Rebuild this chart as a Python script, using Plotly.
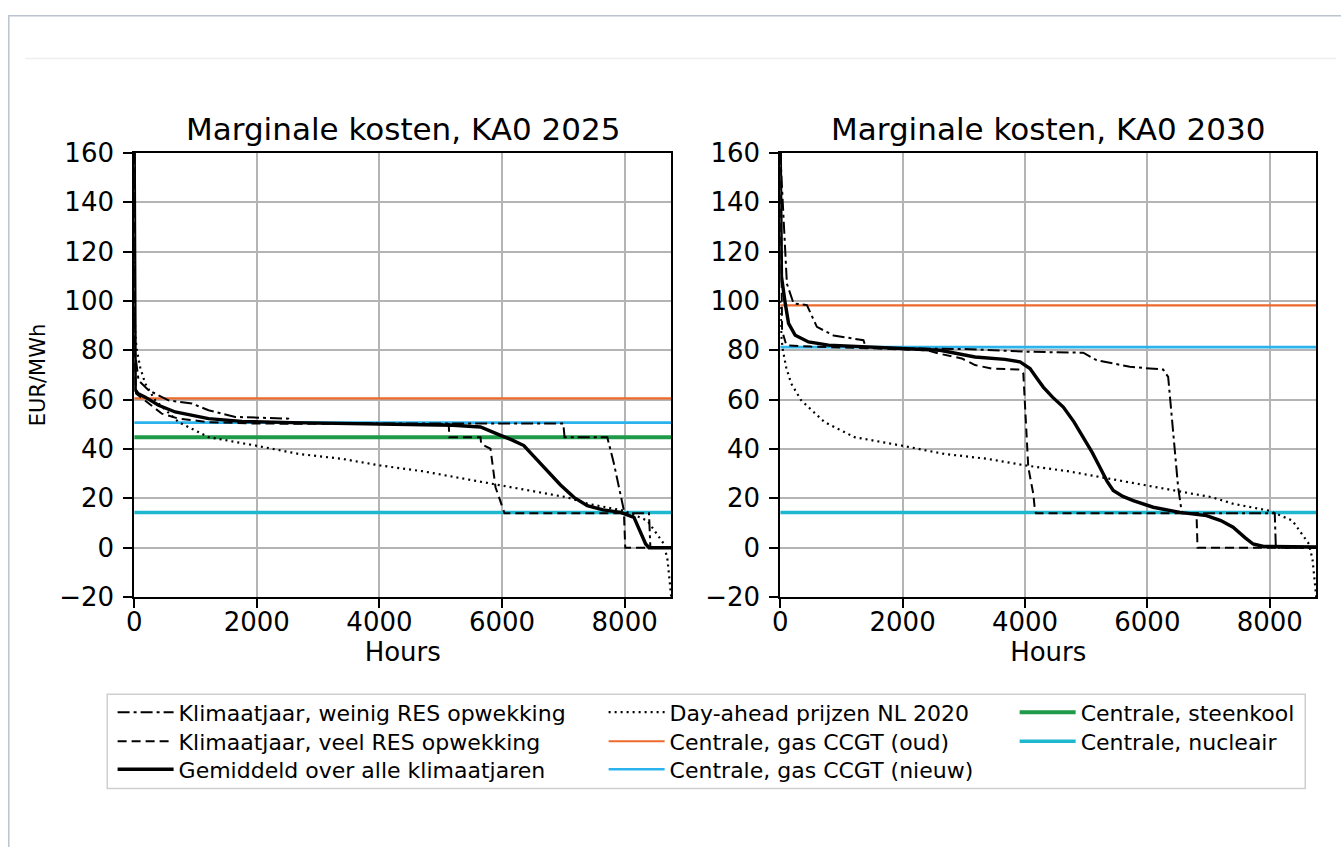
import plotly.graph_objects as go

W, H = 1341, 847

# ---------------- data ----------------
# Day-ahead prices NL 2020 (sorted duration curve, same in both panels)
HOURS_DA = [0, 20, 44, 98, 180, 343, 724, 1213, 1976, 2683, 3391, 4016, 4700, 5224,
            5812, 6313, 7064, 7401, 7989, 8370, 8641, 8700, 8740, 8760]
PRICE_DA = [100, 85, 80, 73, 66.5, 59.7, 50.9, 44.8, 41.4, 38, 36, 33.3, 31, 28.6,
            25.9, 23.8, 20.4, 17.8, 15, 11, 1.5, -5, -15, -20]

# KA0 2025
H25_MEAN = [0, 5, 16, 60, 180, 397, 669, 1213, 1758, 2574, 3500, 4500, 5200, 5649, 5800,
            5976, 6150, 6356, 6500, 6738, 6950, 7173, 7391, 7650, 7935, 8152, 8250, 8343,
            8400, 8760]
P25_MEAN = [160, 90, 64, 62.5, 61, 57.7, 55, 52.3, 51.2, 50.7, 50.3, 50, 49.6, 48.9, 47.5,
            45.5, 43.8, 41.4, 37.5, 31.3, 25.5, 20.4, 17, 15.3, 14.3, 12.3, 7, 1.5,
            0, 0]
H25_LOW = [0, 10, 71, 234, 560, 942, 1213, 1649, 2519, 2600, 7000, 7020, 7717, 7826, 7989,
           8000, 8397, 8420, 8760]
P25_LOW = [160, 80, 67.8, 63.8, 59.7, 58.4, 55.7, 53, 52.3, 50.4, 50.3, 44.8, 44.8, 34, 15,
           14, 14, 0, 0]
H25_HIGH = [0, 10, 30, 234, 452, 724, 1213, 2000, 5131, 5140, 5649, 5660, 5812, 5894, 6030,
            6040, 7989, 8010, 8760]
P25_HIGH = [160, 75, 62.5, 58.4, 54.3, 52.3, 50.9, 50.3, 50.1, 44.8, 44.8, 42, 40.1, 24.5, 15,
            14, 14, 0, 0]

# KA0 2030
H30_MEAN = [0, 20, 82, 136, 245, 462, 789, 1551, 2612, 3184, 3673, 3918, 4082, 4200, 4299,
            4450, 4626, 4800, 4952, 5100, 5224, 5340, 5442, 5600, 5769, 6095, 6531, 6966,
            7200, 7401, 7600, 7728, 7900, 8760]
P30_MEAN = [160, 110, 99, 90.9, 86.1, 83.4, 82.1, 81.1, 80, 77.3, 76.3, 75.3, 72.6, 68.5, 65.1,
            61, 57, 51, 44.8, 38.5, 32.6, 27, 23.2, 20.8, 19.1, 16.4, 14.3, 13,
            11, 8.3, 4, 1.5, 0.5, 0.3]
H30_LOW = [0, 109, 218, 436, 599, 871, 1360, 1400, 3000, 4082, 4952, 5170, 5714, 6258, 6340,
           6395, 6503, 6558, 6570, 8082, 8100, 8760]
P30_LOW = [160, 107, 99, 98.3, 89.5, 86, 84.1, 81, 80.5, 79.4, 79, 76, 73.3, 72.2, 69.2,
           54.3, 24.5, 15, 14, 14, 0, 0]
H30_HIGH = [0, 30, 100, 500, 1500, 2400, 2585, 2966, 3184, 3456, 3918, 3973, 4054, 4136, 4163,
            4180, 6803, 6820, 8760]
P30_HIGH = [160, 88, 82, 81.5, 80.8, 80, 78.7, 76.7, 74, 72.6, 72.2, 70.6, 32.6, 21.8, 15,
            14, 14, 0, 0]

# Plant marginal costs (EUR/MWh)
PLANTS = ["Centrale, gas CCGT (oud)", "Centrale, gas CCGT (nieuw)",
          "Centrale, steenkool", "Centrale, nucleair"]
COST_2025 = [60.5, 50.7, 44.8, 14.3]
COST_2030 = [98.2, 81.3, None, 14.3]
HOUR_SPAN = [0, 8760]

TITLES = ["Marginale kosten, KA0 2025", "Marginale kosten, KA0 2030"]
X_TICKS = [0, 2000, 4000, 6000, 8000]
Y_TICKS = [-20, 0, 20, 40, 60, 80, 100, 120, 140, 160]

SERIES_NAMES = ["Klimaatjaar, weinig RES opwekking", "Klimaatjaar, veel RES opwekking",
                "Gemiddeld over alle klimaatjaren", "Day-ahead prijzen NL 2020"]

# ---------------- styling / layout ----------------
FONT = "DejaVu Sans"
PLANT_COLORS = {
    "Centrale, gas CCGT (oud)": ("#EE6A2C", 2.2),
    "Centrale, gas CCGT (nieuw)": ("#2BB3EE", 2.6),
    "Centrale, steenkool": ("#1E9A48", 4),
    "Centrale, nucleair": ("#1DB8CE", 3.5),
}
SERIES_STYLE = {
    "Klimaatjaar, weinig RES opwekking": dict(color="black", width=2, dash="12px,4px,3px,4px"),
    "Klimaatjaar, veel RES opwekking": dict(color="black", width=2, dash="9px,5px"),
    "Gemiddeld over alle klimaatjaren": dict(color="black", width=3.4),
    "Day-ahead prijzen NL 2020": dict(color="black", width=2.2, dash="2px,4px"),
}
# legend slot (target screen px: text start x, row centre y)
COL_TEXT_X = [179, 670, 1081]
ROW_Y = [711, 740, 768]
LEGEND_SLOT = {
    "Klimaatjaar, weinig RES opwekking": (0, 0),
    "Klimaatjaar, veel RES opwekking": (0, 1),
    "Gemiddeld over alle klimaatjaren": (0, 2),
    "Day-ahead prijzen NL 2020": (1, 0),
    "Centrale, gas CCGT (oud)": (1, 1),
    "Centrale, gas CCGT (nieuw)": (1, 2),
    "Centrale, steenkool": (2, 0),
    "Centrale, nucleair": (2, 1),
}
LEGEND_ORDER = list(LEGEND_SLOT.keys())


# map target screen positions to figure pixels (calibrated on earlier renders)
def fx(t):
    return (t - 7.8) / 0.994


def fy(t):
    return (t - 15.5) / 0.962


def px_x(t):
    return fx(t) / W


def px_y(t):
    return 1 - fy(t) / H


def legend_id(name):
    i = LEGEND_ORDER.index(name)
    return "legend" if i == 0 else f"legend{i + 1}"


fig = go.Figure()

panels = [
    ("x", "y", COST_2025, [(H25_LOW, P25_LOW), (H25_HIGH, P25_HIGH), (H25_MEAN, P25_MEAN)], True),
    ("x2", "y2", COST_2030, [(H30_LOW, P30_LOW), (H30_HIGH, P30_HIGH), (H30_MEAN, P30_MEAN)], False),
]

for xa, ya, costs, curves, first in panels:
    for name, c in zip(PLANTS, costs):
        if c is None:
            continue
        col, wid = PLANT_COLORS[name]
        fig.add_trace(go.Scatter(
            x=HOUR_SPAN, y=[c, c], mode="lines", name=name, xaxis=xa, yaxis=ya,
            line=dict(color=col, width=wid), legend=legend_id(name), showlegend=first))
    fig.add_trace(go.Scatter(
        x=HOURS_DA, y=PRICE_DA, mode="lines", name=SERIES_NAMES[3], xaxis=xa, yaxis=ya,
        line=SERIES_STYLE[SERIES_NAMES[3]], legend=legend_id(SERIES_NAMES[3]),
        showlegend=first))
    for name, (hx, py) in zip(SERIES_NAMES[:3], curves):
        fig.add_trace(go.Scatter(
            x=hx, y=py, mode="lines", name=name, xaxis=xa, yaxis=ya,
            line=SERIES_STYLE[name], legend=legend_id(name), showlegend=first))

axis_common = dict(
    showline=True, mirror=True, linecolor="black", linewidth=2,
    ticks="outside", ticklen=9, tickwidth=2, tickcolor="black",
    showgrid=True, gridcolor="#b4b4b4", gridwidth=1.5, zeroline=False,
    tickfont=dict(family=FONT, size=26, color="black"),
)

fig.update_layout(
    width=W, height=H, margin=dict(l=0, r=0, t=0, b=0),
    paper_bgcolor="white", plot_bgcolor="white",
    font=dict(family=FONT, color="black"),
    xaxis=dict(domain=[px_x(134), px_x(671)], range=[0, 8760], tickvals=X_TICKS,
               anchor="y", ticklabelstandoff=-8,
               title=dict(text="Hours", font=dict(size=26), standoff=6),
               **axis_common),
    yaxis=dict(domain=[px_y(596), px_y(153)], range=[-20, 160], tickvals=Y_TICKS,
               anchor="x", ticklabelstandoff=4,
               title=dict(text="EUR/MWh", font=dict(size=21), standoff=8),
               **axis_common),
    xaxis2=dict(domain=[px_x(780), px_x(1316)], range=[0, 8760], tickvals=X_TICKS,
                anchor="y2", ticklabelstandoff=-8,
                title=dict(text="Hours", font=dict(size=26), standoff=6),
                **axis_common),
    yaxis2=dict(domain=[px_y(596), px_y(153)], range=[-20, 160], tickvals=Y_TICKS,
                anchor="x2", ticklabelstandoff=4, **axis_common),
    showlegend=True,
)

leg_common = dict(
    orientation="v", xanchor="left", yanchor="middle", bgcolor="rgba(0,0,0,0)",
    borderwidth=0, font=dict(family=FONT, size=22, color="black"),
    itemwidth=56,
)
TEXT_OFFSET = 67  # px from legend left edge to item text
for name in LEGEND_ORDER:
    col, row = LEGEND_SLOT[name]
    fig.update_layout({legend_id(name): dict(
        x=(fx(COL_TEXT_X[col]) - TEXT_OFFSET) / W, y=px_y(ROW_Y[row]), **leg_common)})

# subplot titles
for title, dom in zip(TITLES, [(134, 671), (780, 1316)]):
    fig.add_annotation(
        text=title, xref="paper", yref="paper", x=px_x((dom[0] + dom[1]) / 2),
        y=px_y(129), xanchor="center", yanchor="middle", showarrow=False,
        font=dict(family=FONT, size=31, color="black"))

# legend frame and page decorations
fig.add_shape(type="rect", xref="paper", yref="paper",
              x0=px_x(107), x1=px_x(1305), y0=px_y(787), y1=px_y(693),
              line=dict(color="#cfcfcf", width=1.5), fillcolor="rgba(0,0,0,0)")
fig.add_shape(type="rect", xref="paper", yref="paper",
              x0=0.8 / W, x1=1.05, y0=-0.05, y1=1 - 0.8 / H,
              line=dict(color="#b9c4cf", width=1.5), fillcolor="rgba(0,0,0,0)", layer="below")
fig.add_shape(type="line", xref="paper", yref="paper",
              x0=px_x(25), x1=px_x(1336), y0=px_y(59), y1=px_y(59),
              line=dict(color="#efefef", width=1.5), layer="below")

fig.write_html("out.html")
